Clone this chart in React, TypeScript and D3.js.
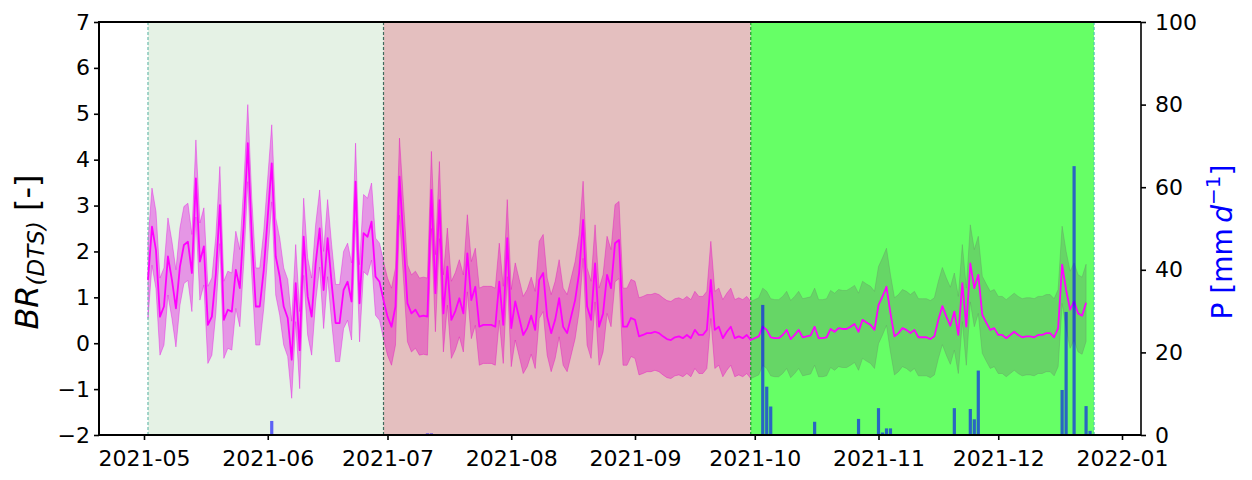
import React, { useEffect, useRef } from "react";
import * as d3 from "d3";

// daily BR(DTS) mean, starting 2021-05-02
const firstDay = "2021-05-02";
const brMean = [
  1.38, 2.54, 2.03, 0.58, 0.8, 1.89, 1.38, 0.76, 1.67, 2.14,
  2.21, 1.53, 3.59, 1.78, 2.11, 0.4, 0.58, 1.5, 3.01, 0.51,
  0.73, 0.69, 1.6, 1.2, 2.61, 4.36, 2.32, 0.8, 0.8, 1.6,
  2.76, 3.92, 1.89, 1.45, 0.8, 0.55, -0.36, 1.31, -0.15, 2.32,
  1.02, 0.58, 1.74, 2.5, 1.16, 2.29, 1.31, 0.44, 0.44, 1.16,
  1.34, 0.91, 3.52, 0.87, 2.4, 2.32, 2.65, 1.45, 1.34,
  0.94, 0.58, 0.36, 0.8, 3.63, 2.25, 0.87, 0.65, 0.73, 0.58,
  0.6, 0.58, 3.34, 1.09, 3.12, 0.65, 1.67, 0.51, 0.7, 0.98,
  0.65, 1.96, 0.94, 1.23, 0.36, 0.4, 0.4, 0.4, 0.36, 1.34,
  0.4, 2.29, 0.33, 0.91, 0.55, 0.18, 0.33, 0.6, 0.29, 1.38,
  1.53, 0.58, 0.22, 0.51, 0.98, 0.36, 0.22, 0.58, 0.94, 1.53,
  2.69, 0.8, 0.51, 1.74, 0.36, 0.65, 1.49, 1.2, 2.18, 2.25,
  0.36, 0.36, 0.55, 0.51, 0.15, 0.18, 0.22, 0.22, 0.25, 0.22,
  0.15, 0.09, 0.07, 0.13, 0.15, 0.11, 0.18, 0.11, 0.29, 0.18,
  0.18, 0.29, 1.38, 0.29, 0.36, 0.11, 0.25, 0.36, 0.11, 0.15,
  0.11, 0.18,
  0.07, 0.11, 0.15, 0.36, 0.29, 0.13, 0.11, 0.11, 0.18, 0.29,
  0.09, 0.18, 0.29, 0.13, 0.15, 0.17, 0.36, 0.11, 0.11, 0.13,
  0.31, 0.25, 0.33, 0.31, 0.31, 0.36, 0.42, 0.25, 0.51, 0.45,
  0.4, 0.29, 0.83, 1.02, 1.23, 0.65, 0.15, 0.22, 0.33, 0.29,
  0.22, 0.29, 0.13, 0.13, 0.13, 0.09, 0.15, 0.51, 0.81, 0.58,
  0.38, 0.69, 0.18, 1.31, 0.36, 1.74, 1.2, 1.49, 0.62, 0.45,
  0.29, 0.33, 0.18, 0.18, 0.11, 0.18, 0.25, 0.18, 0.13, 0.15,
  0.15, 0.13, 0.18, 0.18, 0.22, 0.22, 0.13, 0.33, 1.71, 1.16,
  0.73, 0.91, 0.65, 0.6, 0.88,
];
// half width of the shaded uncertainty band
const brSpread = 0.84;

// period boundaries (shaded spans)
const periodEdges = ["2021-05-02", "2021-06-30", "2021-09-30", "2021-12-25"];

// daily precipitation, mm/d
const precipDates = [
  "2021-06-02", "2021-07-11", "2021-07-12", "2021-10-03", "2021-10-04",
  "2021-10-05", "2021-10-16", "2021-10-27", "2021-11-01", "2021-11-02",
  "2021-11-03", "2021-11-04", "2021-11-20", "2021-11-24", "2021-11-25",
  "2021-11-26", "2021-12-17", "2021-12-18", "2021-12-20", "2021-12-23",
  "2021-12-24",
];
const precipValues = [
  3.4, 0.4, 0.4, 31.5, 11.7, 6.9, 3.2, 3.9, 6.5, 0.6,
  1.6, 1.6, 6.5, 6.3, 3.8, 15.6, 10.9, 29.8, 65.1, 7.0,
  1.0,
];

const xTickLabels = [
  "2021-05", "2021-06", "2021-07", "2021-08", "2021-09",
  "2021-10", "2021-11", "2021-12", "2022-01",
];
const brTicks = [-2, -1, 0, 1, 2, 3, 4, 5, 6, 7];
const precipTicks = [0, 20, 40, 60, 80, 100];

const W = 1252;
const H = 480;
const left = 99;
const right = 1141;
const top = 22;
const bottom = 435;
const font = "DejaVu Sans, sans-serif";
const DAY = 86400000;

const spanFills = ["rgba(0,128,0,0.1)", "rgba(165,42,42,0.3)", "rgba(0,255,0,0.6)"];
const edgeColors = ["#6cbcae", "#3f6a5c", "#1a9a2a", "#4cc4b4"];

const parseDay = (s: string) => new Date(s + "T00:00:00Z");
const parseMonth = (s: string) => new Date(s + "-01T00:00:00Z");

export default function App() {
  const ref = useRef<SVGSVGElement>(null);

  useEffect(() => {
    const svg = d3.select(ref.current);
    svg.selectAll("*").remove();

    const t0 = parseDay(firstDay).getTime();
    const series = brMean.map((v, i) => ({ date: new Date(t0 + i * DAY), v }));

    // x: May 1 -> 144px, Jan 1 -> 1122px
    const mayFirst = Date.UTC(2021, 4, 1);
    const janFirst = Date.UTC(2022, 0, 1);
    const pxPerMs = (1122 - 144) / (janFirst - mayFirst);
    const x = d3
      .scaleUtc()
      .domain([
        new Date(mayFirst - (144 - left) / pxPerMs),
        new Date(janFirst + (right - 1122) / pxPerMs),
      ])
      .range([left, right]);
    const y = d3.scaleLinear().domain([-2, 7]).range([bottom, top]);
    const yP = d3.scaleLinear().domain([0, 100]).range([bottom, top]);

    svg
      .append("clipPath")
      .attr("id", "plot-clip")
      .append("rect")
      .attr("x", left)
      .attr("y", top)
      .attr("width", right - left)
      .attr("height", bottom - top);

    const plot = svg.append("g").attr("clip-path", "url(#plot-clip)");

    // uncertainty band (under the spans)
    const band = d3
      .area<{ date: Date; v: number }>()
      .x((d) => x(d.date))
      .y0((d) => y(d.v - brSpread))
      .y1((d) => y(d.v + brSpread));
    plot
      .append("path")
      .datum(series)
      .attr("d", band)
      .attr("fill", "#ff00ff")
      .attr("fill-opacity", 0.4)
      .attr("stroke", "#ff00ff")
      .attr("stroke-opacity", 0.4)
      .attr("stroke-width", 1);

    // period spans
    const edges = periodEdges.map(parseDay);
    for (let i = 0; i < edges.length - 1; i++) {
      plot
        .append("rect")
        .attr("x", x(edges[i]))
        .attr("y", top)
        .attr("width", x(edges[i + 1]) - x(edges[i]))
        .attr("height", bottom - top)
        .attr("fill", spanFills[i]);
    }
    edges.forEach((d, i) => {
      plot
        .append("line")
        .attr("x1", x(d))
        .attr("x2", x(d))
        .attr("y1", top)
        .attr("y2", bottom)
        .attr("stroke", edgeColors[i])
        .attr("stroke-width", 1.2)
        .attr("stroke-dasharray", "3,2");
    });

    // mean line
    const line = d3
      .line<{ date: Date; v: number }>()
      .x((d) => x(d.date))
      .y((d) => y(d.v));
    plot
      .append("path")
      .datum(series)
      .attr("d", line)
      .attr("fill", "none")
      .attr("stroke", "#ff00ff")
      .attr("stroke-width", 1.8)
      .attr("stroke-linejoin", "round");

    // precipitation bars
    const barW = x(new Date(t0 + 0.8 * DAY)) - x(new Date(t0));
    plot
      .selectAll("rect.precip")
      .data(precipDates.map((d, i) => ({ date: parseDay(d), p: precipValues[i] })))
      .join("rect")
      .attr("class", "precip")
      .attr("x", (d) => x(d.date) - barW / 2)
      .attr("width", barW)
      .attr("y", (d) => yP(d.p))
      .attr("height", (d) => yP(0) - yP(d.p))
      .attr("fill", "rgba(0,0,255,0.6)");

    // axes
    const styleAxis = (g: d3.Selection<SVGGElement, unknown, null, undefined>) => {
      g.select(".domain").remove();
      g.selectAll("line").attr("stroke", "#000").attr("stroke-width", 1.6);
      g.selectAll("text")
        .attr("font-family", font)
        .attr("font-size", 22)
        .attr("fill", "#000");
    };

    svg
      .append("g")
      .attr("transform", `translate(${left},0)`)
      .call(
        d3
          .axisLeft(y)
          .tickValues(brTicks)
          .tickSize(5)
          .tickPadding(4)
          .tickFormat((d) => ((d as number) < 0 ? "\u2212" + Math.abs(d as number) : String(d)))
      )
      .call(styleAxis);

    svg
      .append("g")
      .attr("transform", `translate(${right},0)`)
      .call(d3.axisRight(yP).tickValues(precipTicks).tickSize(5).tickPadding(9))
      .call(styleAxis);

    svg
      .append("g")
      .attr("transform", `translate(0,${bottom})`)
      .call(
        d3
          .axisBottom(x)
          .tickValues(xTickLabels.map(parseMonth))
          .tickSize(5)
          .tickPadding(10)
          .tickFormat((d, i) => xTickLabels[i])
      )
      .call(styleAxis);

    // spines
    const spine = svg.append("g").attr("stroke", "#000").attr("fill", "none");
    spine.append("line").attr("x1", left).attr("x2", right).attr("y1", top).attr("y2", top).attr("stroke-width", 2);
    spine.append("line").attr("x1", left).attr("x2", right).attr("y1", bottom).attr("y2", bottom).attr("stroke-width", 2);
    spine.append("line").attr("x1", left).attr("x2", left).attr("y1", top - 1).attr("y2", bottom + 1).attr("stroke-width", 2);
    spine.append("line").attr("x1", right).attr("x2", right).attr("y1", top).attr("y2", bottom).attr("stroke-width", 1.6);

    // left label
    const yl = svg
      .append("text")
      .attr("transform", "translate(38,252) rotate(-90)")
      .attr("text-anchor", "middle")
      .attr("font-family", font)
      .attr("font-size", 32)
      .attr("fill", "#000");
    yl.append("tspan").attr("font-style", "italic").text("BR");
    yl.append("tspan").attr("font-style", "italic").attr("font-size", 23).attr("dy", 6).text("(DTS)");
    yl.append("tspan").attr("dy", -6).text("\u00a0[-]");

    // right label
    const yr = svg
      .append("text")
      .attr("transform", "translate(1232,242) rotate(-90)")
      .attr("text-anchor", "middle")
      .attr("font-family", font)
      .attr("font-size", 28)
      .attr("fill", "#0000ff");
    yr.append("tspan").text("P [mm\u2009");
    yr.append("tspan").attr("font-style", "italic").text("d");
    yr.append("tspan").attr("font-size", 20).attr("dy", -12).text("\u22121");
    yr.append("tspan").attr("dy", 12).text("]");
  }, []);

  return (
    <svg
      ref={ref}
      width={W}
      height={H}
      style={{ position: "absolute", left: 0, top: 0, background: "#fff" }}
    />
  );
}
